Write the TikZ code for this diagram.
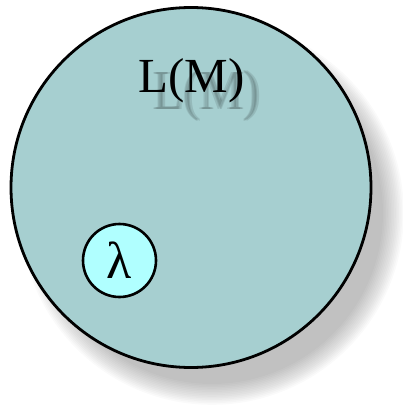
\documentclass[tikz,border=0pt]{standalone}
\usepackage{fontspec}
\setmainfont{Liberation Serif}
\usepackage{tikz}
\definecolor{setfill}{HTML}{A6CFD0}
\definecolor{wordfill}{HTML}{B0FFFF}
\begin{document}
\begin{tikzpicture}[x=1pt, y=1pt, line cap=round,
  langset/.style={circle, fill=setfill, draw=black, line width=2.8pt, minimum size=360pt, inner sep=0pt},
  wordset/.style={circle, fill=wordfill, draw=black, line width=2.6pt, minimum size=73pt, inner sep=0pt, font=\fontsize{52}{52}\selectfont},
  langname/.style={font=\fontsize{49}{49}\selectfont, inner sep=0pt, anchor=base}]
\useasboundingbox (0,0) rectangle (402,-409);
% soft shadow of the big set
\foreach \k in {0,...,13}
  \fill[black, opacity=0.018] (212,-213) circle ({171+\k*1.6});
\node[langset] (lm) at (191,-187.5) {};
% name of the set, with its faint shadow
\foreach \dx in {-1.5,0,1.5}
  \node[langname, text=black, opacity=0.1, yscale=1.15] (lmshade) at ({207+\dx},-110) {L(M)};
\node[langname] (lmlabel) at (191.5,-93) {L(M)};
% the empty word
\node[wordset] (lambda) at (119.5,-260.5) {λ};
\end{tikzpicture}
\end{document}
